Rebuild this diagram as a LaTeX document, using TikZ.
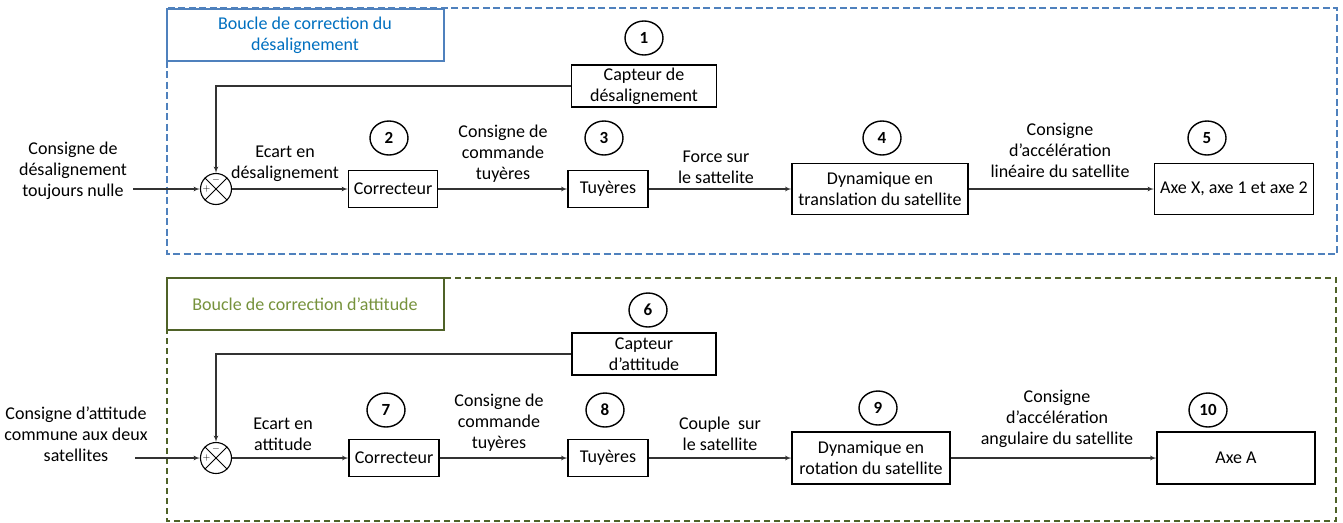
\documentclass[tikz,border=0pt]{standalone}
\usepackage{fontspec}
\setmainfont{Carlito}
\usetikzlibrary{shapes,arrows,positioning}
\definecolor{loopblue}{RGB}{79,129,189}
\definecolor{titleblue}{RGB}{0,112,192}
\definecolor{loopgreen}{RGB}{79,98,40}
\definecolor{titlegreen}{RGB}{118,146,60}
\tikzset{font=\fontsize{18}{21}\selectfont}

\begin{document}
\begin{tikzpicture}
  [x=1pt, y=-1pt, every node/.style={align=center, inner sep=2pt},
  block/.style ={rectangle, draw, line width=1.1pt, minimum height=37pt},
  numc/.style ={ellipse, draw, line width=1.4pt, minimum width=38pt, minimum height=34pt, inner sep=0pt, font=\fontsize{17}{18}\selectfont\bfseries},
  sumnode/.style ={circle, draw, line width=1.1pt, minimum size=31pt, inner sep=0pt},
  sign/.style ={font=\fontsize{10}{10}\selectfont, inner sep=0pt},
  line/.style ={draw=black!80, line width=1.2pt, -latex'},
  bframe/.style ={draw=loopblue, line width=2.8pt, dash pattern=on 7pt off 3.5pt},
  gframe/.style ={draw=loopgreen, line width=2.8pt, dash pattern=on 6pt off 4pt},
  btitle/.style ={rectangle, draw=loopblue, line width=2pt, fill=white, text=titleblue, minimum width=277pt, minimum height=52pt, font=\fontsize{18}{21}\selectfont},
  gtitle/.style ={rectangle, draw=loopgreen, line width=2pt, fill=white, text=titlegreen, minimum width=277pt, minimum height=52pt, font=\fontsize{18}{21}\selectfont}]
  \useasboundingbox (0,0) rectangle (1343,522);

  % frames of the two loops
  \draw[bframe] (167,8) rectangle (1337,254);
  \draw[gframe] (167,278) rectangle (1336,521);
  \node[btitle] (title1) at (305,35) {Boucle de correction du\\désalignement};
  \node[gtitle] (title2) at (305,304) {Boucle de correction d’attitude};

  % loop 1
  \node[numc] (n1) at (644,38) {1};
  \node[block, minimum width=145pt, minimum height=42pt] (cap1) at (644,86) {Capteur de\\désalignement};
  \node[sumnode] (s1) at (216,189) {};
  \node (in1) at (73,171) {Consigne de\\désalignement\\toujours nulle};
  \coordinate (st1) at (133,189);
  \node (e1) at (285,164) {Ecart en\\désalignement};
  \node[numc] (n2) at (389,138) {2};
  \node[block, minimum width=89pt] (cor1) at (393,189) {Correcteur};
  \node (c1) at (503,154) {Consigne de\\commande\\tuyères};
  \node[numc] (n3) at (604,138) {3};
  \node[block, minimum width=80pt] (tuy1) at (608,189) {Tuyères};
  \node (f1) at (716,167) {Force sur\\le sattelite};
  \node[numc] (n4) at (882,138) {4};
  \node[block, minimum width=176pt, minimum height=51pt] (dyn1) at (880,189) {Dynamique en\\translation du satellite};
  \node (a1) at (1060,150) {Consigne\\d’accélération\\linéaire du satellite};
  \node[numc] (n5) at (1207,138) {5};
  \node[block, minimum width=159pt, minimum height=51pt] (axe1) at (1234,189) {Axe X, axe 1 et axe 2};

  % loop 2
  \node[numc] (n6) at (648,310) {6};
  \node[block, minimum width=144pt, minimum height=42pt] (cap2) at (644,354) {Capteur\\d’attitude};
  \node[sumnode] (s2) at (216,458) {};
  \node (in2) at (76,434) {Consigne d’attitude\\commune aux deux\\satellites};
  \coordinate (st2) at (135,458);
  \node (e2) at (283,434) {Ecart en\\attitude};
  \node[numc] (n7) at (386,410) {7};
  \node[block, minimum width=90pt] (cor2) at (394,458) {Correcteur};
  \node (c2) at (499,423) {Consigne de\\commande\\tuyères};
  \node[numc] (n8) at (605,410) {8};
  \node[block, minimum width=80pt] (tuy2) at (608,458) {Tuyères};
  \node (f2) at (720,434) {Couple~~sur\\le satellite};
  \node[numc] (n9) at (878,408) {9};
  \node[block, minimum width=158pt, minimum height=52pt] (dyn2) at (871,458) {Dynamique en\\rotation du satellite};
  \node (a2) at (1057,419) {Consigne\\d’accélération\\angulaire du satellite};
  \node[numc] (n10) at (1208,410) {10};
  \node[block, minimum width=158pt, minimum height=52pt] (axe2) at (1236,458) {Axe A};

  % summing junctions
  \foreach \s in {s1,s2} {
    \draw[line width=1pt] (\s.north west) -- (\s.south east) (\s.north east) -- (\s.south west);
    \node[sign] (\s-m) at ([yshift=9pt]\s.center) {$-$};
    \node[sign] (\s-p) at ([xshift=-9.5pt]\s.center) {$+$};
  }

  \begin{scope}[every path/.style=line]
    \path (st1) -- (s1);
    \path (s1) -- (cor1);
    \path (cor1) -- (tuy1);
    \path (tuy1) -- (dyn1);
    \path (dyn1) -- (axe1);
    \path (cap1) -| (s1);
    \path (st2) -- (s2);
    \path (s2) -- (cor2);
    \path (cor2) -- (tuy2);
    \path (tuy2) -- (dyn2);
    \path (dyn2) -- (axe2);
    \path (cap2) -| (s2);
  \end{scope}
\end{tikzpicture}
\end{document}
